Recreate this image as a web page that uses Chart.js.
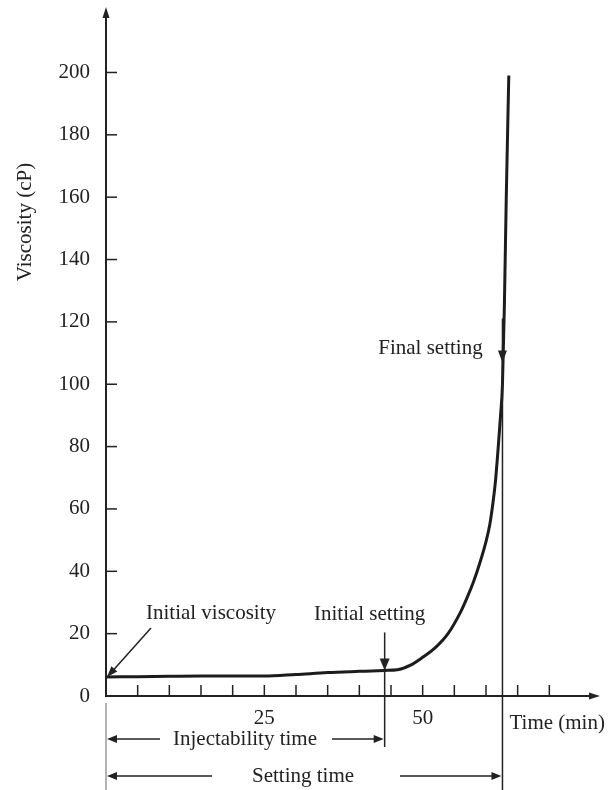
<!DOCTYPE html>
<html>
<head>
<meta charset="utf-8">
<script src="https://cdn.jsdelivr.net/npm/chart.js@4.4.0/dist/chart.umd.min.js"></script>
<style>
  html, body { margin: 0; padding: 0; background: #fff; }
  #wrap { width: 616px; height: 790px; }
</style>
</head>
<body>
<div id="wrap"><canvas id="viscChart"></canvas></div>
<script>
// Viscosity curve, values (time in min, viscosity in cP)
const time = [0, 5, 10, 15, 20, 25, 30, 35, 40, 44, 46, 48, 50, 52, 54, 56, 57, 58, 59, 60, 60.6, 61.1, 61.5, 61.9, 62.3, 62.6, 62.9, 63.2, 63.6];
const viscosity = [6.1, 6.2, 6.3, 6.4, 6.4, 6.4, 6.9, 7.5, 7.9, 8.2, 8.4, 9.8, 12.4, 15.5, 20, 27, 31.5, 36.5, 42.5, 49.5, 55, 62, 69, 79, 90, 100, 125, 160, 199];

const xTickLabels = [25, 50];
const yTickLabels = [0, 20, 40, 60, 80, 100, 120, 140, 160, 180, 200];

const initialSettingTime = 44;
const finalSettingTime = 62.6;

const serif = '"Liberation Serif", "DejaVu Serif", serif';
const ink = '#222';

function line(ctx, x1, y1, x2, y2) {
  ctx.beginPath();
  ctx.moveTo(x1, y1);
  ctx.lineTo(x2, y2);
  ctx.stroke();
}

function arrowHead(ctx, x, y, angle, len, half) {
  ctx.save();
  ctx.translate(x, y);
  ctx.rotate(angle);
  ctx.beginPath();
  ctx.moveTo(0, 0);
  ctx.lineTo(-len, -half);
  ctx.lineTo(-len, half);
  ctx.closePath();
  ctx.fill();
  ctx.restore();
}

// axes with arrows, inward tick marks and the annotations
const annotations = {
  id: 'annotations',
  afterDraw(chart) {
    const { ctx, chartArea: a, scales: { x, y } } = chart;
    const x0 = x.getPixelForValue(0);
    const y0 = y.getPixelForValue(0);
    const H = chart.height;

    ctx.save();
    ctx.strokeStyle = ink;
    ctx.fillStyle = ink;
    ctx.lineCap = 'butt';

    // axes
    ctx.lineWidth = 2;
    line(ctx, x0, y0 + 1, x0, a.top + 4);
    arrowHead(ctx, x0, a.top, -Math.PI / 2, 11, 3.5);
    line(ctx, x0 - 1, y0, a.right - 4, y0);
    arrowHead(ctx, a.right, y0, 0, 11, 3.5);

    // tick marks
    ctx.lineWidth = 1.5;
    y.ticks.forEach(t => {
      if (t.value > 0 && t.value <= 200 && t.value % 20 === 0) {
        const py = y.getPixelForValue(t.value);
        line(ctx, x0, py, x0 + 11, py);
      }
    });
    x.ticks.forEach(t => {
      if (t.value > 0 && t.value <= 75 && t.value % 5 === 0) {
        const px = x.getPixelForValue(t.value);
        line(ctx, px, y0, px, y0 - 11);
      }
    });

    ctx.font = '21px ' + serif;
    ctx.textAlign = 'center';
    ctx.textBaseline = 'middle';

    // initial viscosity
    const tipX = x0 + 1, tipY = y.getPixelForValue(viscosity[0]);
    const tailX = tipX + 44, tailY = tipY - 49;
    ctx.lineWidth = 1.5;
    line(ctx, tailX, tailY, tipX + 6, tipY - 6.5);
    arrowHead(ctx, tipX, tipY, Math.atan2(tipY - tailY, tipX - tailX), 11, 4);
    ctx.fillText('Initial viscosity', x0 + 105, tipY - 63);

    // initial setting
    const xs = x.getPixelForValue(initialSettingTime);
    const ys = y.getPixelForValue(8.2);
    ctx.lineWidth = 1.5;
    line(ctx, xs, ys - 38, xs, y0 + 51);
    arrowHead(ctx, xs, ys, Math.PI / 2, 12, 5);
    ctx.fillText('Initial setting', xs - 15, ys - 56);

    // final setting
    const xf = x.getPixelForValue(finalSettingTime);
    const yf = y.getPixelForValue(107);
    line(ctx, xf, yf - 44, xf, H);
    arrowHead(ctx, xf, yf, Math.PI / 2, 12, 4.5);
    ctx.fillText('Final setting', xf - 72, yf - 14);

    // left reference line under the axis
    ctx.strokeStyle = '#666';
    ctx.lineWidth = 1;
    line(ctx, x0, y0 + 7, x0, H);
    ctx.strokeStyle = ink;

    // injectability time
    const yi = y0 + 43;
    ctx.lineWidth = 1.5;
    line(ctx, x0 + 8, yi, x0 + 54, yi);
    arrowHead(ctx, x0 + 1, yi, Math.PI, 10, 4);
    line(ctx, x0 + 226, yi, xs - 8, yi);
    arrowHead(ctx, xs - 1, yi, 0, 10, 4);
    ctx.fillText('Injectability time', x0 + 139, yi);

    // setting time
    const yt = y0 + 80;
    line(ctx, x0 + 8, yt, x0 + 106, yt);
    arrowHead(ctx, x0 + 1, yt, Math.PI, 10, 4);
    line(ctx, x0 + 294, yt, xf - 8, yt);
    arrowHead(ctx, xf - 1, yt, 0, 10, 4);
    ctx.fillText('Setting time', x0 + 197, yt);

    // axis titles
    ctx.textAlign = 'left';
    ctx.fillText('Time (min)', xf + 7, y0 + 27);

    ctx.save();
    ctx.translate(25, 222);
    ctx.rotate(-Math.PI / 2);
    ctx.textAlign = 'center';
    ctx.fillText('Viscosity (cP)', 0, 0);
    ctx.restore();

    ctx.restore();
  }
};

const ctx = document.getElementById('viscChart').getContext('2d');
new Chart(ctx, {
  type: 'line',
  data: {
    datasets: [{
      data: time.map((t, i) => ({ x: t, y: viscosity[i] })),
      borderColor: '#1c1c1c',
      borderWidth: 3,
      pointRadius: 0,
      fill: false,
      cubicInterpolationMode: 'monotone'
    }]
  },
  options: {
    responsive: true,
    maintainAspectRatio: false,
    animation: false,
    layout: { padding: { top: 7, right: 16, left: 0, bottom: 0 } },
    plugins: {
      legend: { display: false },
      tooltip: { enabled: false }
    },
    scales: {
      x: {
        type: 'linear',
        min: 0,
        max: 78,
        grid: { display: false, drawTicks: false },
        border: { display: false },
        ticks: {
          stepSize: 5,
          autoSkip: false,
          maxRotation: 0,
          padding: 10,
          color: ink,
          font: { size: 21, family: serif },
          callback: v => xTickLabels.includes(v) ? String(v) : ''
        },
        afterFit: s => { s.height = 94; s.paddingLeft = 0; s.paddingRight = 0; }
      },
      y: {
        min: 0,
        max: 221,
        grid: { display: false, drawTicks: false },
        border: { display: false },
        ticks: {
          stepSize: 20,
          autoSkip: false,
          padding: 16,
          color: ink,
          font: { size: 21, family: serif },
          callback: v => yTickLabels.includes(v) ? String(v) : ''
        },
        afterFit: s => { s.width = 106; s.paddingTop = 0; s.paddingBottom = 0; }
      }
    }
  },
  plugins: [annotations]
});
</script>
</body>
</html>
